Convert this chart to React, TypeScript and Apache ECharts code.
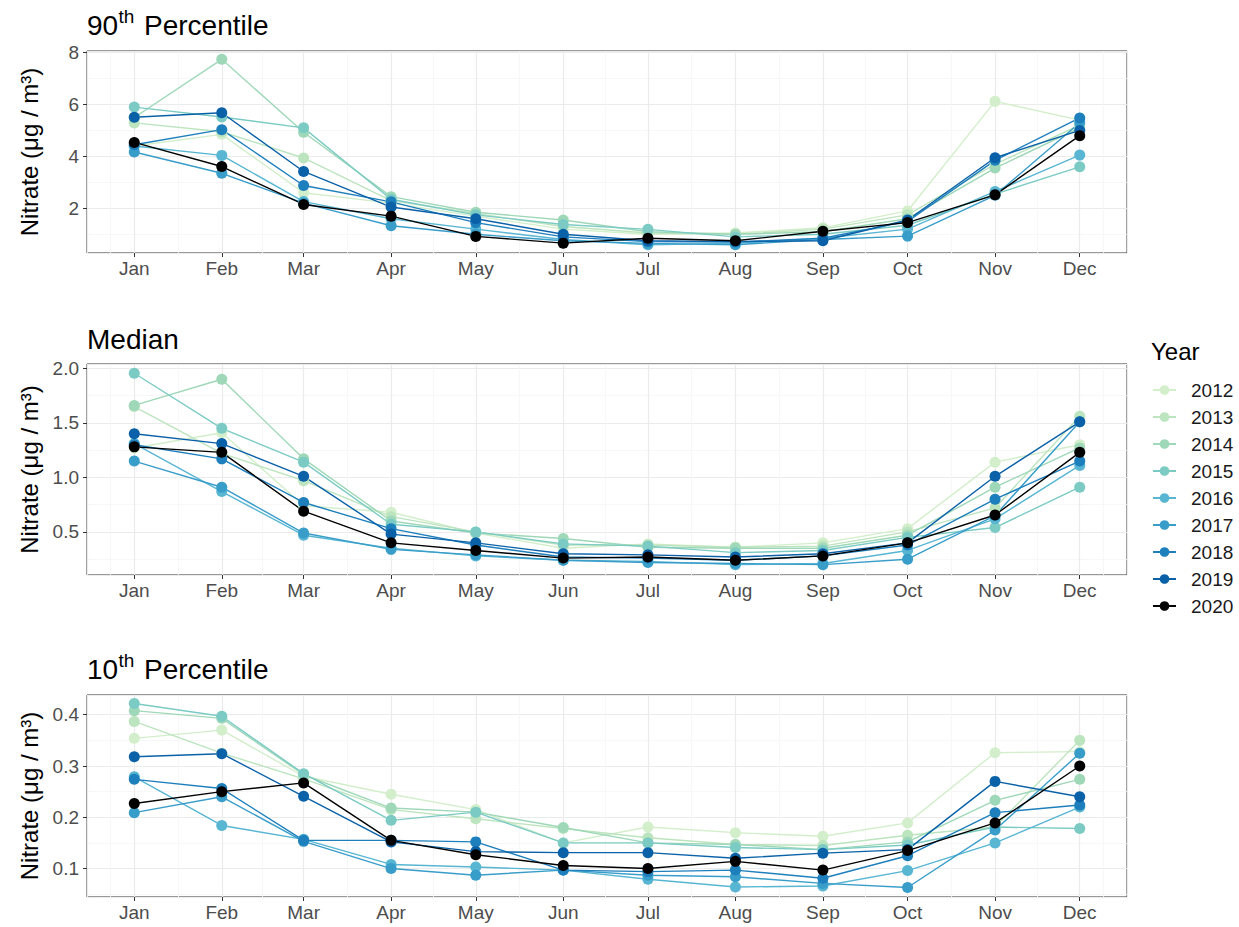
import React, { useEffect, useRef } from "react";
import * as echarts from "echarts";

const monthNames = ["Jan", "Feb", "Mar", "Apr", "May", "Jun", "Jul", "Aug", "Sep", "Oct", "Nov", "Dec"];
const years = ["2012", "2013", "2014", "2015", "2016", "2017", "2018", "2019", "2020"];
const yearColors = ["#d3eecb", "#bce4be", "#9fd8b8", "#7bcbc4", "#58b6d3", "#399dca", "#1e7fbd", "#0a61a8", "#000000"];

// 90th percentile (µg/m³), Jan..Dec
const p90_2012 = [4.4, 4.85, 2.6, 2.2, 1.7, 1.2, 1.0, 1.05, 1.25, 1.9, 6.12, 5.4];
const p90_2013 = [5.29, 4.95, 3.94, 2.3, 1.8, 1.3, 1.05, 1.0, 1.2, 1.75, 3.7, 5.2];
const p90_2014 = [5.5, 7.74, 4.93, 2.45, 1.85, 1.55, 1.1, 1.0, 1.1, 1.6, 3.55, 5.1];
const p90_2015 = [5.9, 5.52, 5.1, 2.35, 1.75, 1.38, 1.19, 0.9, 1.0, 1.35, 2.55, 3.6];
const p90_2016 = [4.4, 4.04, 2.26, 1.6, 1.2, 0.8, 0.6, 0.65, 0.85, 1.2, 2.65, 4.05];
const p90_2017 = [4.17, 3.35, 2.2, 1.33, 1.0, 0.75, 0.65, 0.6, 0.8, 0.93, 2.5, 5.3];
const p90_2018 = [4.45, 5.03, 2.88, 2.25, 1.45, 0.9, 0.72, 0.7, 0.85, 1.5, 3.85, 5.48];
const p90_2019 = [5.51, 5.68, 3.42, 2.05, 1.6, 1.0, 0.75, 0.72, 0.75, 1.55, 3.95, 5.0];
const p90_2020 = [4.54, 3.61, 2.15, 1.7, 0.92, 0.66, 0.85, 0.75, 1.12, 1.45, 2.52, 4.8];

// Median
const med_2012 = [1.27, 1.41, 0.74, 0.68, 0.49, 0.35, 0.39, 0.36, 0.4, 0.53, 1.14, 1.3];
const med_2013 = [1.65, 1.22, 0.97, 0.64, 0.5, 0.38, 0.38, 0.36, 0.37, 0.5, 0.72, 1.56];
const med_2014 = [1.66, 1.9, 1.17, 0.6, 0.49, 0.44, 0.36, 0.35, 0.35, 0.47, 0.91, 1.27];
const med_2015 = [1.955, 1.45, 1.14, 0.57, 0.5, 0.39, 0.37, 0.31, 0.33, 0.45, 0.54, 0.91];
const med_2016 = [1.31, 0.87, 0.47, 0.35, 0.28, 0.24, 0.23, 0.2, 0.21, 0.33, 0.62, 1.11];
const med_2017 = [1.15, 0.91, 0.49, 0.34, 0.29, 0.24, 0.22, 0.21, 0.2, 0.25, 0.65, 1.51];
const med_2018 = [1.3, 1.17, 0.77, 0.53, 0.38, 0.27, 0.26, 0.24, 0.28, 0.38, 0.8, 1.15];
const med_2019 = [1.4, 1.31, 1.01, 0.48, 0.4, 0.3, 0.29, 0.27, 0.3, 0.4, 1.01, 1.51];
const med_2020 = [1.28, 1.23, 0.69, 0.4, 0.33, 0.26, 0.27, 0.24, 0.28, 0.4, 0.655, 1.23];

// 10th percentile
const p10_2012 = [0.354, 0.37, 0.28, 0.245, 0.215, 0.15, 0.181, 0.17, 0.163, 0.189, 0.326, 0.328];
const p10_2013 = [0.387, 0.325, 0.275, 0.215, 0.197, 0.178, 0.16, 0.147, 0.145, 0.165, 0.181, 0.35];
const p10_2014 = [0.408, 0.393, 0.283, 0.218, 0.21, 0.18, 0.15, 0.147, 0.137, 0.152, 0.233, 0.274];
const p10_2015 = [0.422, 0.397, 0.285, 0.194, 0.21, 0.15, 0.15, 0.141, 0.137, 0.146, 0.181, 0.178];
const p10_2016 = [0.279, 0.184, 0.157, 0.108, 0.103, 0.097, 0.079, 0.064, 0.066, 0.096, 0.15, 0.22];
const p10_2017 = [0.209, 0.24, 0.153, 0.1, 0.087, 0.097, 0.087, 0.084, 0.071, 0.063, 0.175, 0.325];
const p10_2018 = [0.274, 0.256, 0.155, 0.155, 0.152, 0.097, 0.094, 0.097, 0.081, 0.125, 0.209, 0.224];
const p10_2019 = [0.318, 0.324, 0.241, 0.152, 0.133, 0.131, 0.131, 0.12, 0.13, 0.137, 0.27, 0.24];
const p10_2020 = [0.227, 0.25, 0.267, 0.155, 0.127, 0.106, 0.1, 0.114, 0.097, 0.135, 0.189, 0.3];

const panel90 = [p90_2012, p90_2013, p90_2014, p90_2015, p90_2016, p90_2017, p90_2018, p90_2019, p90_2020];
const panelMed = [med_2012, med_2013, med_2014, med_2015, med_2016, med_2017, med_2018, med_2019, med_2020];
const panel10 = [p10_2012, p10_2013, p10_2014, p10_2015, p10_2016, p10_2017, p10_2018, p10_2019, p10_2020];

const yRanges = [
  [0.28, 8.06],
  [0.105, 2.04],
  [0.0445, 0.4385],
];

const FONT = "'Liberation Sans', Arial, sans-serif";
const DAY = 86400000;

export default function App() {
  const ref = useRef<HTMLDivElement>(null);

  useEffect(() => {
    if (!ref.current) return;
    const chart = echarts.init(ref.current, undefined, { renderer: "svg" });

    const monthTimes = monthNames.map((_, i) => new Date(2020, i, 1).getTime());
    const pad = (monthTimes[11] - monthTimes[0]) * 0.05;
    const xMin = monthTimes[0] - pad;
    const xMax = monthTimes[11] + pad;

    const grids = [
      { left: 87, top: 51, width: 1040, height: 202 },
      { left: 87, top: 364, width: 1040, height: 211 },
      { left: 87, top: 695, width: 1040, height: 202 },
    ].map((g) => ({
      ...g,
      show: true,
      backgroundColor: "#ffffff",
      borderColor: "#333333",
      borderWidth: 1,
      containLabel: false,
      outerBoundsMode: "none",
    }));

    const majorLine = { color: "#ebebeb", width: 1.2 };
    const minorLine = { color: "#f5f5f5", width: 0.8 };

    const xAxes = [0, 1, 2].map((g) => ({
      type: "time",
      gridIndex: g,
      min: xMin,
      max: xMax,
      splitNumber: 12,
      minInterval: 28 * DAY,
      maxInterval: 31 * DAY,
      axisLine: { show: false },
      axisTick: { show: true, length: 4, lineStyle: { color: "#333333", width: 1 } },
      axisLabel: {
        formatter: (v: number) => monthNames[new Date(v).getMonth()],
        color: "#4d4d4d",
        fontSize: 19,
        fontFamily: FONT,
        margin: 6,
        showMinLabel: false,
        showMaxLabel: false,
      },
      splitLine: { show: true, lineStyle: majorLine },
      minorTick: { show: false, splitNumber: 2 },
      minorSplitLine: { show: true, lineStyle: minorLine },
    }));

    const yAxes = [0, 1, 2].map((g) => ({
      type: "value",
      gridIndex: g,
      min: yRanges[g][0],
      max: yRanges[g][1],
      splitNumber: 4,
      name: "Nitrate (\u03bcg / m\u00b3)",
      nameLocation: "middle",
      nameRotate: 90,
      nameGap: 46,
      nameTextStyle: { fontSize: 24, color: "#000000", fontFamily: FONT },
      axisLine: { show: false },
      axisTick: { show: true, length: 4, lineStyle: { color: "#333333", width: 1 } },
      axisLabel: {
        color: "#4d4d4d",
        fontSize: 19,
        fontFamily: FONT,
        margin: 8,
        showMinLabel: false,
        showMaxLabel: false,
        formatter: (v: number) => (g === 0 ? String(Math.round(v)) : v.toFixed(1)),
      },
      splitLine: { show: true, lineStyle: majorLine },
      minorTick: { show: false, splitNumber: 2 },
      minorSplitLine: { show: true, lineStyle: minorLine },
    }));

    const panels = [panel90, panelMed, panel10];
    const series: any[] = [];
    panels.forEach((panel, g) => {
      panel.forEach((vals, yi) => {
        series.push({
          type: "line",
          name: years[yi],
          xAxisIndex: g,
          yAxisIndex: g,
          data: vals.map((v, i) => [monthTimes[i], v]),
          symbol: "circle",
          symbolSize: 11,
          showSymbol: true,
          color: yearColors[yi],
          lineStyle: { width: 1.4, color: yearColors[yi] },
          itemStyle: { color: yearColors[yi] },
          emphasis: { disabled: true },
        });
      });
    });

    const titleText = (x: number, y: number, text: string, size: number) => ({
      type: "text",
      x,
      y,
      style: {
        text,
        fontSize: size,
        fontFamily: FONT,
        fill: "#000000",
        textAlign: "left",
        textVerticalAlign: "middle",
        verticalAlign: "middle",
      },
    });

    chart.setOption({
      animation: false,
      textStyle: { fontFamily: FONT },
      grid: grids,
      xAxis: xAxes,
      yAxis: yAxes,
      series,
      legend: {
        data: years,
        orient: "vertical",
        left: 1152,
        top: 380,
        padding: 0,
        itemWidth: 23,
        itemHeight: 12,
        itemGap: 7,
        textStyle: { fontSize: 19, fontFamily: FONT, color: "#1a1a1a", lineHeight: 20, padding: [0, 0, 0, 10] },
        selectedMode: false,
      },
      graphic: [
        titleText(87, 25.3, "90", 28),
        titleText(118.5, 16.5, "th", 19),
        titleText(144, 25.3, "Percentile", 28),
        titleText(87, 339.6, "Median", 28),
        titleText(87, 669.6, "10", 28),
        titleText(118.5, 660.7, "th", 19),
        titleText(144, 669.6, "Percentile", 28),
        titleText(1151, 351, "Year", 24),
      ],
    });

    return () => chart.dispose();
  }, []);

  return (
    <div
      ref={ref}
      style={{ position: "fixed", left: 0, top: 0, width: 1239, height: 927, background: "#ffffff" }}
    />
  );
}
